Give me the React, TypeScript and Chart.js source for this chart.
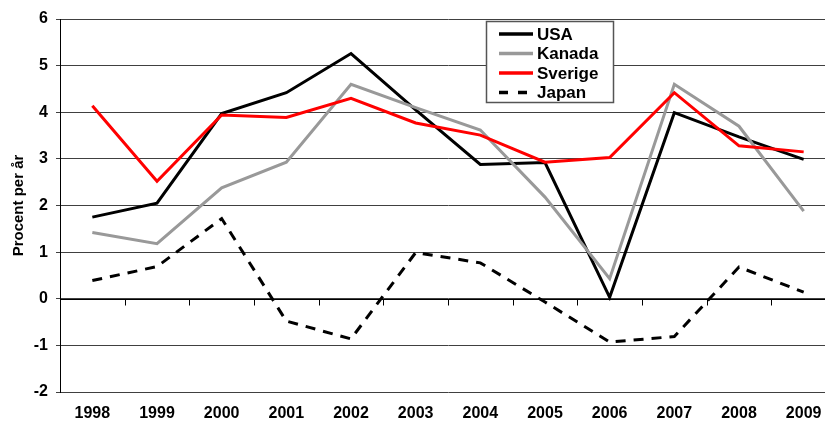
import React, { useEffect, useRef } from "react";
import { Chart, registerables } from "chart.js";

Chart.register(...registerables);

const years = ["1998", "1999", "2000", "2001", "2002", "2003", "2004", "2005", "2006", "2007", "2008", "2009"];
const usa = [1.75, 2.05, 3.97, 4.42, 5.26, 4.05, 2.88, 2.92, 0.03, 3.99, 3.47, 2.99];
const kanada = [1.42, 1.18, 2.38, 2.93, 4.6, 4.1, 3.62, 2.18, 0.43, 4.6, 3.7, 1.88];
const sverige = [4.14, 2.52, 3.94, 3.89, 4.3, 3.77, 3.51, 2.93, 3.03, 4.42, 3.28, 3.15];
const japan = [0.39, 0.69, 1.72, -0.48, -0.86, 0.99, 0.77, -0.07, -0.93, -0.81, 0.68, 0.14];
const seriesNames = ["USA", "Kanada", "Sverige", "Japan"];
const seriesColors = ["#000000", "#999999", "#ff0000", "#000000"];
const yMin = -2;
const yMax = 6;
const yTitle = "Procent per år";

const FONT = "'Liberation Sans', Arial, sans-serif";

const overlayPlugin = {
  id: "overlay",
  afterDatasetsDraw(chart: any) {
    const ctx = chart.ctx;
    const xs = chart.scales.x;
    const ys = chart.scales.y;
    const area = chart.chartArea;
    const y0 = Math.round(ys.getPixelForValue(0)) + 0.5;
    ctx.save();
    ctx.strokeStyle = "#000";
    ctx.lineWidth = 1;
    ctx.beginPath();
    ctx.moveTo(area.left, y0);
    ctx.lineTo(area.right, y0);
    ctx.stroke();
    for (let i = 1; i < years.length; i++) {
      const x = Math.round(xs.getPixelForValue(i - 0.5)) + 0.5;
      ctx.beginPath();
      ctx.moveTo(x, y0);
      ctx.lineTo(x, y0 + 6);
      ctx.stroke();
    }
    const lx = 486.5, ly = 21.5, lw = 127, lh = 81;
    ctx.fillStyle = "#fff";
    ctx.fillRect(lx, ly, lw, lh);
    ctx.strokeStyle = "#555";
    ctx.lineWidth = 1.5;
    ctx.strokeRect(lx, ly, lw, lh);
    ctx.font = "bold 17px " + FONT;
    ctx.textBaseline = "middle";
    ctx.textAlign = "left";
    const rows = [34, 53.5, 73, 92.5];
    seriesNames.forEach((name, i) => {
      const yy = rows[i];
      ctx.strokeStyle = seriesColors[i];
      ctx.lineWidth = 3.5;
      ctx.setLineDash(i === 3 ? [9, 10] : []);
      ctx.beginPath();
      ctx.moveTo(499, yy);
      ctx.lineTo(533, yy);
      ctx.stroke();
      ctx.setLineDash([]);
      ctx.fillStyle = "#000";
      ctx.fillText(name, 537, yy + 1);
    });
    ctx.restore();
  },
};

export default function App() {
  const ref = useRef<HTMLCanvasElement>(null);
  useEffect(() => {
    if (!ref.current) return;
    const data = [usa, kanada, sverige, japan];
    const chart = new Chart(ref.current, {
      type: "line",
      data: {
        labels: years,
        datasets: seriesNames.map((name, i) => ({
          label: name,
          data: data[i],
          borderColor: seriesColors[i],
          backgroundColor: seriesColors[i],
          borderWidth: 3,
          borderDash: i === 3 ? [10, 8] : [],
          borderJoinStyle: "miter" as const,
          pointRadius: 0,
          tension: 0,
          order: 4 - i,
        })),
      },
      plugins: [overlayPlugin],
      options: {
        animation: false,
        responsive: true,
        maintainAspectRatio: false,
        layout: { padding: { top: 19, left: 0, right: 0, bottom: 0 } },
        plugins: { legend: { display: false }, tooltip: { enabled: false } },
        scales: {
          x: {
            type: "category",
            offset: true,
            grid: { display: false, drawTicks: false },
            border: { display: false },
            ticks: {
              color: "#000",
              padding: 14,
              font: { family: FONT, size: 16, weight: "bold", lineHeight: 1 },
              maxRotation: 0,
              autoSkip: false,
            },
            afterFit(scale: any) {
              scale.height = 29;
            },
          },
          y: {
            min: yMin,
            max: yMax,
            ticks: {
              stepSize: 1,
              color: "#000",
              padding: 8,
              font: { family: FONT, size: 16, weight: "bold" },
            },
            grid: { color: "#404040", lineWidth: 1, drawTicks: true, tickLength: 4 },
            border: { display: true, color: "#000", width: 1 },
            title: {
              display: true,
              text: yTitle,
              color: "#000",
              font: { family: FONT, size: 15, weight: "bold", lineHeight: 1.2 },
              padding: { top: 10, bottom: 0 },
            },
            afterFit(scale: any) {
              scale.width = 60;
            },
          },
        },
      },
    });
    return () => chart.destroy();
  }, []);
  return (
    <div style={{ position: "fixed", left: 0, top: 0, width: 836, height: 421, background: "#fff" }}>
      <canvas ref={ref} />
    </div>
  );
}
